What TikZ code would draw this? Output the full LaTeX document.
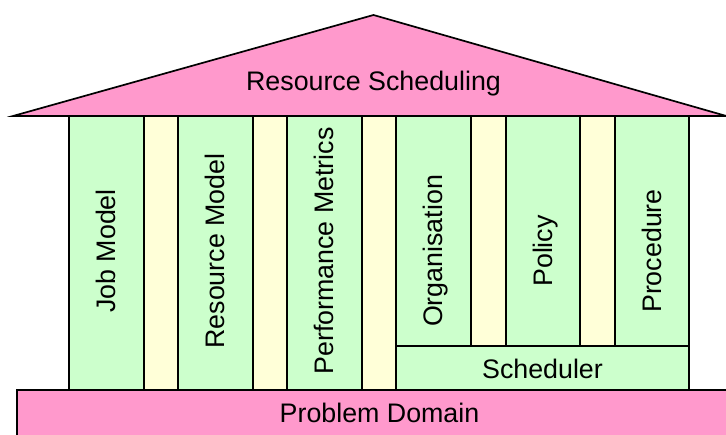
\documentclass[tikz,border=0pt]{standalone}
\usepackage{fontspec}
\setmainfont{Liberation Sans}
\definecolor{roofpink}{HTML}{FF99CC}
\definecolor{pillargreen}{HTML}{CCFFCC}
\definecolor{gapyellow}{HTML}{FFFFD8}
\begin{document}
\begin{tikzpicture}[x=1pt,y=-1pt,
  outline/.style={draw=black,line width=1.7pt,line join=miter},
  pillar/.style={outline,fill=pillargreen},
  gap/.style={outline,fill=gapyellow},
  slab/.style={outline,fill=roofpink},
  lbl/.style={font=\fontsize{26.8}{30}\selectfont,inner sep=0pt,anchor=base},
  vlbl/.style={lbl,rotate=90}]
\useasboundingbox (0,0) rectangle (726,435);
\clip (0,0) rectangle (726,435);
% gaps between the pillars
\draw[gap] (144,116) rectangle (178,390);
\draw[gap] (253,116) rectangle (287,390);
\draw[gap] (362,116) rectangle (396,390);
\draw[gap] (471,116) rectangle (506,346);
\draw[gap] (580,116) rectangle (615,346);
% pillars
\draw[pillar] (69,116) rectangle (144,390);
\draw[pillar] (178,116) rectangle (253,390);
\draw[pillar] (287,116) rectangle (362,390);
\draw[pillar] (396,116) rectangle (471,346);
\draw[pillar] (506,116) rectangle (580,346);
\draw[pillar] (615,116) rectangle (689,346);
% scheduler beam under the last three pillars
\draw[pillar] (396,346) rectangle (689,390);
% foundation and roof
\draw[slab] (17,390) rectangle (745,450);
\draw[slab] (13,116) -- (373.5,15) -- (735,118.5) -- (735,116) -- cycle;
% labels
\node[lbl] (roof) at (373.5,91) {Resource Scheduling};
\node[lbl] (base) at (379.5,423) {Problem Domain};
\node[lbl] (sched) at (542.5,378.5) {Scheduler};
\node[vlbl] (job) at (115.5,251) {Job Model};
\node[vlbl] (res) at (224.5,251) {Resource Model};
\node[vlbl] (perf) at (333.5,251) {Performance Metrics};
\node[vlbl] (org) at (442.5,251) {Organisation};
\node[vlbl] (pol) at (552,251) {Policy};
\node[vlbl] (proc) at (661,251) {Procedure};
\end{tikzpicture}
\end{document}
